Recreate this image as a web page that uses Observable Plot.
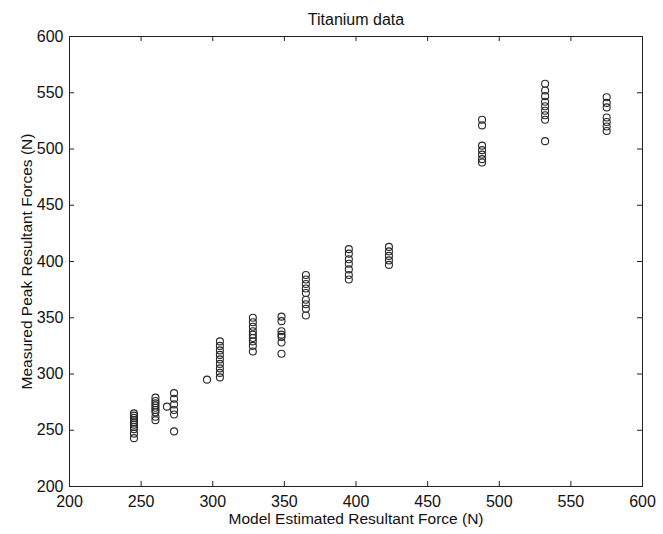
<!DOCTYPE html>
<html>
<head>
<meta charset="utf-8">
<script src="https://cdn.jsdelivr.net/npm/d3@7"></script>
<script src="https://cdn.jsdelivr.net/npm/@observablehq/plot@0.6"></script>
<style>
  html, body { margin: 0; padding: 0; background: #fff; }
  #chart svg { display: block; }
</style>
</head>
<body>
<div id="chart"></div>
<script>
// Model estimated resultant force (N) for each measured trial
const modelForce = [
  245,245,245,245,245,245,245,245,245,245,
  260,260,260,260,260,260,260,260,260,
  273,273,273,273,273,273,268,
  305,305,305,305,305,305,305,305,305,296,
  328,328,328,328,328,328,328,328,328,
  348,348,348,348,348,348,348,
  365,365,365,365,365,365,365,365,365,
  395,395,395,395,395,395,395,
  423,423,423,423,423,
  488,488,488,488,488,488,488,
  532,532,532,532,532,532,532,532,532,
  575,575,575,575,575,575,575
];
// Measured peak resultant forces (N)
const measuredForce = [
  265,263,261,259,257,255,253,251,247,243,
  279,276,274,272,270,268,266,262,259,
  283,278,273,268,264,249,271,
  329,325,321,317,313,309,305,301,297,295,
  350,346,342,338,335,332,329,325,320,
  351,347,338,335,333,328,318,
  388,384,380,376,372,366,362,358,352,
  411,407,402,398,393,388,384,
  413,409,405,401,397,
  526,521,503,499,495,491,488,
  558,552,547,542,538,534,530,526,507,
  546,541,537,528,524,520,516
];
const xTicks = [200, 250, 300, 350, 400, 450, 500, 550, 600];
const yTicks = [200, 250, 300, 350, 400, 450, 500, 550, 600];
const titleText = "Titanium data";
const xTitle = "Model Estimated Resultant Force (N)";
const yTitle = "Measured Peak Resultant Forces (N)";

const points = modelForce.map((x, i) => ({x, y: measuredForce[i]}));

const W = 663, H = 534;
const mL = 69, mR = 21, mT = 36, mB = 48;
const innerW = W - mL - mR, innerH = H - mT - mB;
const tick = 5;

const chart = Plot.plot({
  width: W,
  height: H,
  marginLeft: mL,
  marginRight: mR,
  marginTop: mT,
  marginBottom: mB,
  style: {
    fontFamily: "'Liberation Sans', Arial, Helvetica, sans-serif",
    background: "#ffffff",
    color: "#111"
  },
  x: {domain: [200, 600]},
  y: {domain: [200, 600]},
  marks: [
    Plot.frame({stroke: "#222", strokeWidth: 1}),
    // inward ticks on all four sides
    Plot.tickX(xTicks, {x: d => d, insetTop: innerH - tick, stroke: "#222"}),
    Plot.tickX(xTicks, {x: d => d, insetBottom: innerH - tick, stroke: "#222"}),
    Plot.tickY(yTicks, {y: d => d, insetRight: innerW - tick, stroke: "#222"}),
    Plot.tickY(yTicks, {y: d => d, insetLeft: innerW - tick, stroke: "#222"}),
    Plot.axisX({ticks: xTicks, tickSize: 0, tickPadding: 9, fontSize: 16, label: null, tickFormat: d => String(d)}),
    Plot.axisY({ticks: yTicks, tickSize: 0, tickPadding: 6, fontSize: 16, label: null, tickFormat: d => String(d)}),
    Plot.dot(points, {x: "x", y: "y", r: 3.5, stroke: "#2a2a2a", strokeWidth: 1.1, fill: "none"}),
    Plot.text([titleText], {text: d => d, frameAnchor: "top", dy: -23, fontSize: 16, fill: "#111"}),
    Plot.text([xTitle], {text: d => d, frameAnchor: "bottom", dy: 37, fontSize: 15.5, fill: "#111"}),
    Plot.text([yTitle], {text: d => d, frameAnchor: "left", textAnchor: "middle", rotate: -90, dx: -42, fontSize: 15.5, fill: "#111"})
  ]
});
document.getElementById("chart").appendChild(chart);
</script>
</body>
</html>
